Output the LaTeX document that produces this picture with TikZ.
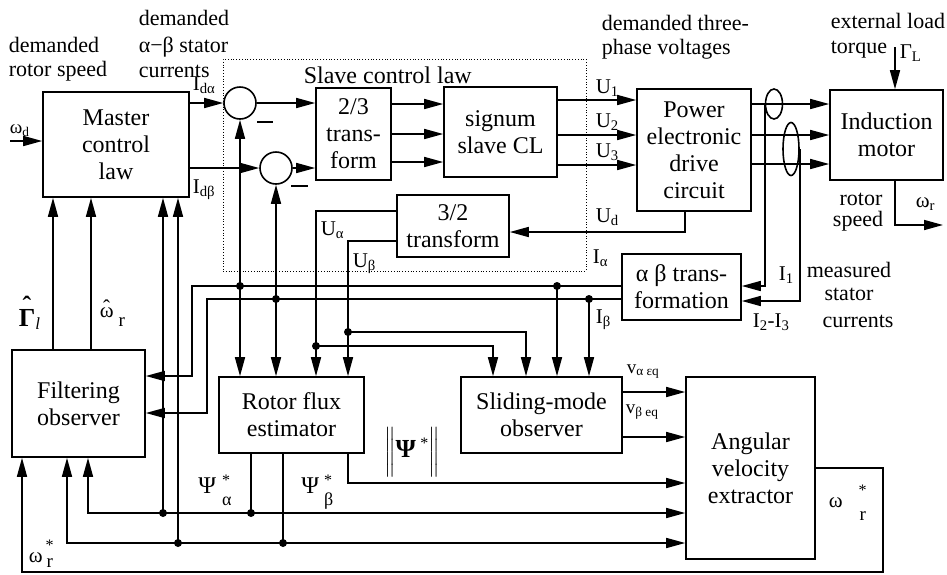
\documentclass[tikz,border=0pt]{standalone}
\usepackage{amsmath}
\usepackage{fontspec}
\setmainfont{Liberation Serif}
\usetikzlibrary{arrows.meta,shapes.geometric}
\newcommand\hatover[2]{\ooalign{#1\cr\hidewidth\raisebox{#2}{ˆ}\hidewidth\cr}}
\begin{document}
\begin{tikzpicture}[x=1pt,y=-1pt,line width=1.6pt,
  box/.style={draw,rectangle,inner sep=0pt,align=center,font=\fontsize{24}{27}\selectfont},
  arr/.style={-{Triangle[length=19pt,width=10pt]}},
  lb/.style={inner sep=0pt,anchor=base west,font=\fontsize{21}{21}\selectfont},
  lbc/.style={inner sep=0pt,anchor=base,font=\fontsize{21}{21}\selectfont},
  ann/.style={inner sep=0pt,anchor=base west,font=\fontsize{22}{22}\selectfont},
  annc/.style={inner sep=0pt,anchor=base,font=\fontsize{22}{22}\selectfont},
  sumj/.style={draw,circle,inner sep=0pt,minimum size=32pt},
  lens/.style={draw,ellipse,inner sep=0pt}]
\useasboundingbox (0,0) rectangle (947,574);

% ---------- blocks ----------
\node[draw,dotted,line width=0.8pt,inner sep=0pt,minimum width=363pt,minimum height=212pt] (slave) at (404.5,165) {};
\node[box,minimum width=146pt,minimum height=105pt] (mcl) at (116,144.5) {Master\\control\\law};
\node[box,minimum width=133pt,minimum height=107pt] (flt) at (78.5,403.5) {Filtering\\observer};
\node[box,minimum width=75pt,minimum height=92pt] (t23) at (353.5,134) {2/3\\trans-\\form};
\node[box,minimum width=113pt,minimum height=90pt] (sgn) at (500.5,132) {signum\\slave CL};
\node[box,minimum width=114pt,minimum height=122pt] (pwr) at (694,150) {Power\\electronic\\drive\\circuit};
\node[box,minimum width=113pt,minimum height=90pt] (ind) at (886.5,135) {Induction\\motor};
\node[box,minimum width=112pt,minimum height=62pt] (t32) at (453,226) {3/2\\transform};
\node[box,minimum width=119pt,minimum height=66pt] (abt) at (681.5,287) {α β trans-\\formation};
\node[box,minimum width=145pt,minimum height=76pt] (rfe) at (291.5,415) {Rotor flux\\estimator};
\node[box,minimum width=161pt,minimum height=76pt] (smo) at (541.5,415) {Sliding-mode\\observer};
\node[box,minimum width=129pt,minimum height=182pt] (ave) at (750.5,468) {Angular\\velocity\\extractor};
\node[sumj] (s1) at (240,103) {};
\node[sumj] (s2) at (276,168) {};
\node[lens,minimum width=17pt,minimum height=30pt] (e1) at (774,104) {};
\node[lens,minimum width=16pt,minimum height=53pt] (e2) at (791,149) {};

% minus signs at the summing junctions
\draw (257,122) -- (273,122);
\draw (291,186) -- (308,186);

% ---------- coordinates ----------
\coordinate (wd) at (10,141);
\coordinate (gL) at (895,47);
\coordinate (rs) at (895,225);
\coordinate (wr) at (943,225);
\coordinate (ud) at (685,232);
\coordinate (ua) at (316,211);
\coordinate (jua) at (316,346);
\coordinate (sua) at (493,346);
\coordinate (ub) at (348,241);
\coordinate (jub) at (348,332);
\coordinate (sub) at (526,332);
\coordinate (ia) at (192,286);
\coordinate (ia2) at (192,376);
\coordinate (ib) at (207,299);
\coordinate (ib2) at (207,413);
\coordinate (j1) at (240,286);
\coordinate (j2) at (276,299);
\coordinate (j3) at (557,286);
\coordinate (j4) at (589,299);
\coordinate (gh) at (53,300);
\coordinate (wh) at (91,300);
\coordinate (pa) at (251,513);
\coordinate (pa1) at (163,513);
\coordinate (pa2) at (88,513);
\coordinate (pb) at (283,543);
\coordinate (pb1) at (178,543);
\coordinate (pb2) at (67,543);
\coordinate (pn) at (348,483);
\coordinate (wo1) at (883,468);
\coordinate (wo2) at (883,572);
\coordinate (wo3) at (22,572);

% ---------- connectors ----------
\draw[arr] (wd) -- (wd -| mcl.west);
\draw[arr] (s1.west -| mcl.east) -- (s1.west);
\draw[arr] (s2.west -| mcl.east) -- (s2.west);
\draw[arr] (s1.east) -- (s1.east -| t23.west);
\draw[arr] (s2.east) -- (s2.east -| t23.west);
\foreach \y in {104,134,162} \draw[arr] (t23.east |- 0,\y) -- (sgn.west |- 0,\y);
\foreach \y in {100,135,165} \draw[arr] (sgn.east |- 0,\y) -- (pwr.west |- 0,\y);
\foreach \y in {104,135,164} \draw[arr] (pwr.east |- 0,\y) -- (ind.west |- 0,\y);
\draw[arr] (e1.west) |- (abt.east |- 0,286);
\draw[arr] (e2.east) |- (abt.east |- 0,301);
\draw[arr] (gL) -- (gL |- ind.north);
\draw[arr] (rs |- ind.south) -- (rs) -- (wr);
\draw[arr] (ud |- pwr.south) -- (ud) -- (ud -| t32.east);
\draw[arr] (t32.west |- ua) -- (ua) -- (ua |- rfe.north);
\draw[arr] (jua) -- (sua) -- (sua |- smo.north);
\draw[arr] (t32.west |- ub) -- (ub) -- (ub |- rfe.north);
\draw[arr] (jub) -- (sub) -- (sub |- smo.north);
\draw[arr] (abt.west |- ia) -- (ia) -- (ia2) -- (ia2 -| flt.east);
\draw[arr] (abt.west |- ib) -- (ib) -- (ib2) -- (ib2 -| flt.east);
\draw[arr] (j1) -- (j1 |- s1.south);
\draw[arr] (j1) -- (j1 |- rfe.north);
\draw[arr] (j2) -- (j2 |- s2.south);
\draw[arr] (j2) -- (j2 |- rfe.north);
\draw[arr] (j3) -- (j3 |- smo.north);
\draw[arr] (j4) -- (j4 |- smo.north);
\draw[arr] (gh |- flt.north) -- (gh |- mcl.south);
\draw[arr] (wh |- flt.north) -- (wh |- mcl.south);
\draw (rfe.south -| pa) -- (pa);
\draw[arr] (pa) -- (pa2) -- (pa2 |- flt.south);
\draw[arr] (pa) -- (pa -| ave.west);
\draw[arr] (pa1) -- (pa1 |- mcl.south);
\draw (rfe.south -| pb) -- (pb);
\draw[arr] (pb) -- (pb2) -- (pb2 |- flt.south);
\draw[arr] (pb) -- (pb -| ave.west);
\draw[arr] (pb1) -- (pb1 |- mcl.south);
\draw[arr] (rfe.south -| pn) -- (pn) -- (pn -| ave.west);
\draw[arr] (smo.east |- 0,392) -- (ave.west |- 0,392);
\draw[arr] (smo.east |- 0,437) -- (ave.west |- 0,437);
\draw[arr] (ave.east) -- (wo1) -- (wo2) -- (wo3) -- (wo3 |- flt.south);
\foreach \c in {j1,j2,j3,j4,jua,jub,pa,pa1,pb,pb1} \fill (\c) circle (4pt);

% ---------- annotations ----------
\node[ann] at (8,52) {demanded};
\node[ann] at (8,76) {rotor speed};
\node[ann] at (138,25) {demanded};
\node[ann] at (138,52) {α−β stator};
\node[ann] at (138,77) {currents};
\node[ann] at (601,30) {demanded three-};
\node[ann] at (601,54) {phase voltages};
\node[ann] at (830,28) {external load};
\node[ann] at (830,53) {torque};
\node[annc] at (861,205) {rotor};
\node[annc] at (858,226) {speed};
\node[annc] at (849,277) {measured};
\node[annc] at (849,300) {stator};
\node[annc] at (858,327) {currents};
\node[inner sep=0pt,anchor=base west,font=\fontsize{24}{24}\selectfont] at (303,83) {Slave control law};

% ---------- signal labels ----------
\node[lb,font=\fontsize{19}{19}\selectfont] at (9,133) {ω\textsubscript{d}};
\node[lb] at (192,90) {I\textsubscript{dα}};
\node[lb] at (192,193) {I\textsubscript{dβ}};
\node[lb] at (595,93) {U\textsubscript{1}};
\node[lb] at (595,127) {U\textsubscript{2}};
\node[lb] at (595,157) {U\textsubscript{3}};
\node[lb] at (595,222) {U\textsubscript{d}};
\node[lb] at (592,263) {I\textsubscript{α}};
\node[lb] at (595,323) {I\textsubscript{β}};
\node[lb] at (320,235) {U\textsubscript{α}};
\node[lb] at (352,267) {U\textsubscript{β}};
\node[lb] at (778,280) {I\textsubscript{1}};
\node[lb] at (752,327) {I\textsubscript{2}-I\textsubscript{3}};
\node[lb] at (899,58) {Γ\textsubscript{L}};
\node[lb] at (915,207) {ω\textsubscript{r}};
\node[lb,font=\fontsize{19}{19}\selectfont] at (626,373) {v\textsubscript{α εq}};
\node[lb,font=\fontsize{19}{19}\selectfont] at (625,413) {v\textsubscript{β eq}};

% hatted estimates
\node[lb,font=\fontsize{26}{26}\selectfont] at (18,326)
  {\textbf{\hatover{Γ}{12pt}}\raisebox{-3pt}{\fontsize{17}{17}\selectfont\itshape l}};
\node[lb] at (99,317)
  {\hatover{ω}{3pt}\hspace{5pt}\raisebox{-9pt}{\fontsize{19}{19}\selectfont r}};

% flux components
\node[lb,font=\fontsize{24}{24}\selectfont] at (197.5,493)
  {Ψ\hspace{6pt}\rlap{\raisebox{8pt}{\fontsize{16}{16}\selectfont *}}\raisebox{-12pt}{\fontsize{18}{18}\selectfont α}};
\node[lb,font=\fontsize{24}{24}\selectfont] at (300.5,493)
  {Ψ\hspace{5pt}\rlap{\raisebox{8pt}{\fontsize{16}{16}\selectfont *}}\raisebox{-12pt}{\fontsize{18}{18}\selectfont β}};
\node[inner sep=0pt,font=\fontsize{21}{21}\selectfont] at (412,452)
  {$\bigg\|\mbox{\fontsize{26}{26}\selectfont\bfseries Ψ\,\raisebox{9pt}{\fontsize{16}{16}\selectfont\mdseries *}}\bigg\|$};

% estimated speed
\node[lb] at (28,562)
  {ω\hspace{3pt}\rlap{\raisebox{12pt}{\fontsize{16}{16}\selectfont *}}\hspace{1pt}\raisebox{-5pt}{\fontsize{19}{19}\selectfont r}};
\node[lb] at (828,507)
  {ω\hspace{16pt}\rlap{\raisebox{12pt}{\fontsize{16}{16}\selectfont *}}\hspace{1pt}\raisebox{-13pt}{\fontsize{19}{19}\selectfont r}};
\end{tikzpicture}
\end{document}
